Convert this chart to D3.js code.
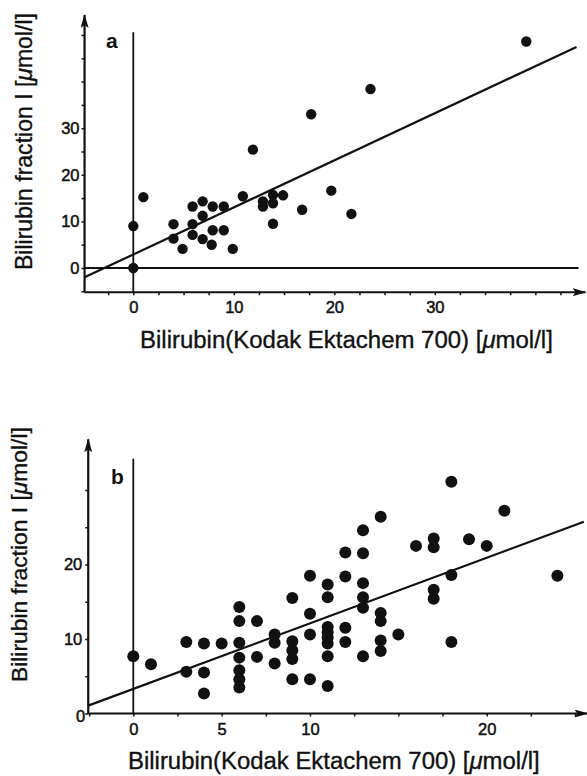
<!DOCTYPE html>
<html>
<head>
<meta charset="utf-8">
<script src="https://cdn.jsdelivr.net/npm/d3@7"></script>
<style>
  body { margin: 0; background: #fff; }
  svg text { font-family: "Liberation Sans", Arial, Helvetica, sans-serif; fill: #111; }
</style>
</head>
<body>
<div id="chart"></div>
<script>
// ---- panel a data ----
const aX = [0, 0, 1, 4, 4, 4.9, 5.9, 5.9, 5.9, 6.9, 6.9, 6.9, 7.9, 7.8, 7.9, 9, 9, 9.9,
            10.9, 11.9, 12.9, 12.9, 13.9, 13.9, 13.9, 14.9, 16.8, 17.7, 19.7, 21.7, 23.6, 39.1];
const aY = [9, 0, 15.2, 9.4, 6.3, 4.1, 13.2, 9.4, 7.1, 14.3, 11.2, 6.2, 13.2, 5.0, 8.1, 13.2, 8.1, 4.1,
            15.4, 25.4, 14.3, 13.2, 15.7, 13.9, 9.5, 15.6, 12.5, 33, 16.6, 11.6, 38.4, 48.6];
const aXTicks = [0, 10, 20, 30];
const aYTicks = [0, 10, 20, 30];
const aFit = [2.9, 1.01]; // intercept, slope

// ---- panel b data ----
const bX = [0, 1, 3, 3, 4, 4, 4, 5, 6, 6, 6, 6, 6, 6, 6, 7, 7, 8, 8, 8,
            9, 9, 9, 9, 9, 10, 10, 10, 10, 11, 11, 11, 11, 11, 11, 11, 11,
            12, 12, 12, 12, 13, 13, 13, 13, 13, 13, 14, 14, 14, 14, 14, 15,
            16, 17, 17, 17, 17, 18, 18, 18, 19, 20, 21, 24];
const bY = [7.7, 6.6, 9.6, 5.6, 9.4, 5.5, 2.7, 9.4, 14.3, 12.4, 9.5, 7.5, 5.8, 4.6, 3.5, 12.4, 7.6, 10.6, 9.5, 6.7,
            15.5, 9.7, 8.5, 7.3, 4.6, 18.5, 13.4, 10.6, 4.6, 17.3, 15.6, 11.6, 10.9, 10.2, 9.4, 7.7, 3.7,
            21.6, 18.4, 11.5, 9.6, 24.6, 21.5, 17.5, 15.6, 14.2, 7.7, 26.4, 13.5, 12.4, 9.8, 8.4, 10.6,
            22.5, 23.5, 22.3, 16.6, 15.4, 31.1, 18.6, 9.6, 23.4, 22.5, 27.2, 18.5];
const bXTicks = [0, 5, 10, 20];
const bYTicks = [0, 10, 20];
const bFit = [3.3, 0.88];

const xTitle = "Bilirubin(Kodak Ektachem 700) ";
const yTitle = "Bilirubin fraction I ";

const width = 587;
const height = 776;

const svg = d3.select("#chart")
    .append("svg")
    .attr("width", width)
    .attr("height", height);

// arrow head used on the axis ends
svg.append("defs").append("marker")
    .attr("id", "arrow")
    .attr("viewBox", "0 0 14 8")
    .attr("refX", 13)
    .attr("refY", 4)
    .attr("markerWidth", 14)
    .attr("markerHeight", 8)
    .attr("markerUnits", "userSpaceOnUse")
    .attr("orient", "auto")
    .append("path")
    .attr("d", "M0,0 L14,4 L0,8 L3,4 Z")
    .attr("fill", "#111");

// writes "... [μmol/l]" and scales the font to the measured width
const unitTitle = (g, label, size, target) => {
    const t = g.append("text")
        .attr("font-size", size)
        .attr("stroke", "#111")
        .attr("stroke-width", 0.35);
    t.append("tspan").text(label + "[");
    t.append("tspan").attr("font-style", "italic").text("μ");
    t.append("tspan").text("mol/l]");
    const len = t.node().getComputedTextLength();
    t.attr("font-size", size * target / len);
    return t;
};

const drawPanel = (cfg) => {
    const { xs, ys, x, y } = cfg;
    const g = svg.append("g");

    // minor ticks through d3 axes (no labels)
    const xMinor = d3.axisBottom(x)
        .tickValues(d3.range(Math.ceil(cfg.xMin / cfg.xStep) * cfg.xStep, cfg.xMax, cfg.xStep))
        .tickSize(3).tickFormat("");
    const xg = g.append("g").attr("transform", `translate(0,${y(cfg.yMin)})`).call(xMinor);
    xg.select(".domain").remove();
    xg.selectAll("line").attr("stroke", "#111").attr("stroke-width", 1.5);

    const yMinor = d3.axisLeft(y)
        .tickValues(d3.range(Math.ceil(cfg.yMin / 5) * 5, cfg.yMax - 3, 5))
        .tickSize(3).tickFormat("");
    const yg = g.append("g").attr("transform", `translate(${x(cfg.xMin)},0)`).call(yMinor);
    yg.select(".domain").remove();
    yg.selectAll("line").attr("stroke", "#111").attr("stroke-width", 1.5);

    // tick labels
    const xLab = d3.axisBottom(x).tickValues(cfg.xTicks).tickSize(0).tickPadding(cfg.xPad);
    const xl = g.append("g").attr("transform", `translate(0,${y(cfg.yMin)})`).call(xLab);
    xl.select(".domain").remove();
    xl.selectAll("text").attr("font-size", 16.5).attr("font-family", null)
        .attr("fill", "#111").attr("stroke", "#111").attr("stroke-width", 0.5);

    const yLab = d3.axisLeft(y).tickValues(cfg.yTicks).tickSize(0).tickPadding(cfg.yPad);
    const yl = g.append("g").attr("transform", `translate(${x(cfg.xMin)},0)`).call(yLab);
    yl.select(".domain").remove();
    yl.selectAll("text").attr("font-size", 16.5).attr("font-family", null)
        .attr("fill", "#111").attr("stroke", "#111").attr("stroke-width", 0.5);
    if (cfg.zeroLabelShift) {
        yl.selectAll(".tick").filter((d) => d === 0).select("text")
            .attr("x", -cfg.yPad + cfg.zeroLabelShift[0]).attr("dy", `${0.32 + cfg.zeroLabelShift[1] / 16}em`);
    }

    // axes with arrows
    g.append("line")
        .attr("x1", x(cfg.xMin)).attr("y1", y(cfg.yMin))
        .attr("x2", x(cfg.xMax)).attr("y2", y(cfg.yMin))
        .attr("stroke", "#111").attr("stroke-width", 2.2)
        .attr("marker-end", "url(#arrow)");
    g.append("line")
        .attr("x1", x(cfg.xMin)).attr("y1", y(cfg.yMin))
        .attr("x2", x(cfg.xMin)).attr("y2", y(cfg.yMax))
        .attr("stroke", "#111").attr("stroke-width", 2.2)
        .attr("marker-end", "url(#arrow)");

    // zero reference lines
    g.append("line")
        .attr("x1", x(0)).attr("y1", y(cfg.yMin))
        .attr("x2", x(0)).attr("y2", y(cfg.vTop))
        .attr("stroke", "#111").attr("stroke-width", 1.8);
    if (cfg.hRight) {
        g.append("line")
            .attr("x1", x(cfg.xMin)).attr("y1", y(0))
            .attr("x2", x(cfg.hRight)).attr("y2", y(0))
            .attr("stroke", "#111").attr("stroke-width", 1.8);
    }

    // fitted line
    const fitLine = d3.line().x((d) => x(d)).y((d) => y(cfg.fit[0] + cfg.fit[1] * d));
    g.append("path")
        .attr("d", fitLine(cfg.fitRange))
        .attr("fill", "none")
        .attr("stroke", "#111")
        .attr("stroke-width", 2.2);

    // points
    g.selectAll("circle.pt")
        .data(d3.range(xs.length))
        .enter()
        .append("circle")
        .attr("class", "pt")
        .attr("cx", (i) => x(xs[i]))
        .attr("cy", (i) => y(ys[i]))
        .attr("r", cfg.r)
        .attr("fill", "#111");

    // panel letter
    g.append("text")
        .attr("x", cfg.letterPos[0]).attr("y", cfg.letterPos[1])
        .attr("font-size", 21).attr("font-weight", "bold")
        .text(cfg.letter);

    // titles
    unitTitle(g, xTitle, 20, cfg.xTitleLen)
        .attr("x", cfg.xTitlePos[0]).attr("y", cfg.xTitlePos[1]);
    unitTitle(g, yTitle, 20, cfg.yTitleLen)
        .attr("transform", `translate(${cfg.yTitlePos[0]},${cfg.yTitlePos[1]}) rotate(-90)`);
};

// panel a
drawPanel({
    xs: aX, ys: aY,
    x: d3.scaleLinear().domain([0, 30]).range([133.3, 434.8]),
    y: d3.scaleLinear().domain([0, 30]).range([268, 128.2]),
    xMin: -4.85, xMax: 45, yMin: -5.2, yMax: 54.3, xStep: 2.5,
    xTicks: aXTicks, yTicks: aYTicks, xPad: 9, yPad: 5,
    vTop: 50.6, hRight: 44.3,
    fit: aFit, fitRange: [-4.85, 44.1],
    r: 5.2, letter: "a", letterPos: [106, 48],
    xTitlePos: [140, 348], xTitleLen: 413,
    yTitlePos: [32, 270], yTitleLen: 257
});

// panel b
drawPanel({
    xs: bX, ys: bY,
    x: d3.scaleLinear().domain([0, 20]).range([133.3, 486.7]),
    y: d3.scaleLinear().domain([0, 20]).range([713.5, 564.5]),
    xMin: -2.55, xMax: 25.7, yMin: 0, yMax: 36.8, xStep: 2.5,
    xTicks: bXTicks, yTicks: bYTicks, xPad: 10, yPad: 6,
    zeroLabelShift: [3, 3],
    vTop: 34.2, hRight: null,
    fit: bFit, fitRange: [-2.55, 25.5],
    r: 6, letter: "b", letterPos: [111, 484],
    xTitlePos: [128, 769], xTitleLen: 412,
    yTitlePos: [27, 682], yTitleLen: 255
});
</script>
</body>
</html>
